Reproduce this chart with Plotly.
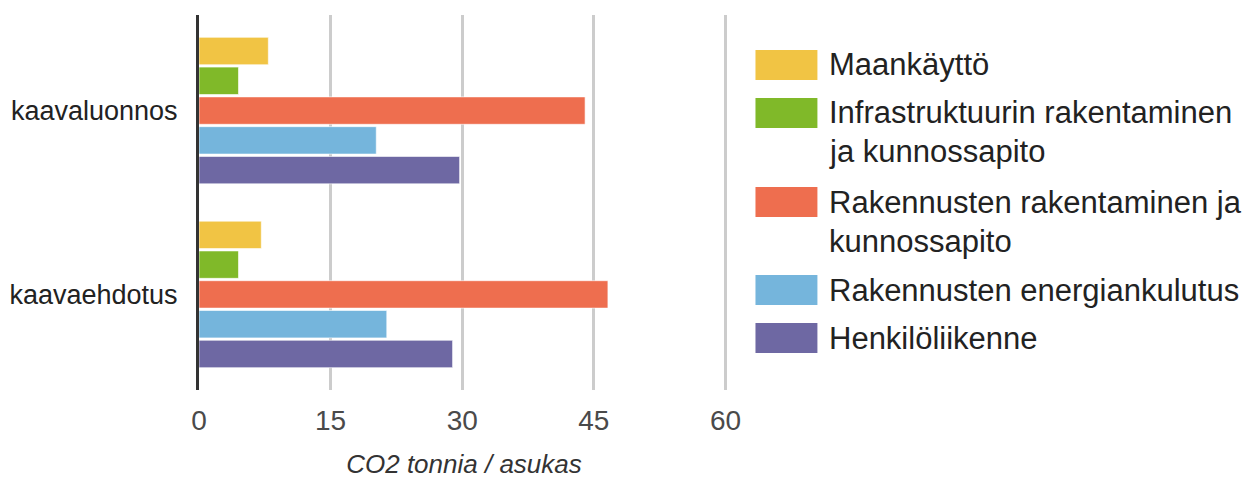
import plotly.graph_objects as go

categories = ["kaavaluonnos", "kaavaehdotus"]
series_names = [
    "Maankäyttö",
    "Infrastruktuurin rakentaminen<br>ja kunnossapito",
    "Rakennusten rakentaminen ja<br>kunnossapito",
    "Rakennusten energiankulutus",
    "Henkilöliikenne",
]
maankaytto = [7.9, 7.1]
infra = [4.5, 4.5]
rak_rakentaminen = [44.0, 46.6]
energia = [20.2, 21.4]
henkiloliikenne = [29.7, 28.9]
series_values = [maankaytto, infra, rak_rakentaminen, energia, henkiloliikenne]
colors = ["#F1C444", "#80B929", "#EE6E4F", "#75B5DC", "#6E68A3"]
x_ticks = [0, 15, 30, 45, 60]

FONT = "Arial"
O = 8  # page body margin offset
W, H = 1260 - O, 479 - O
L, R, T, B = 199 - O, 729.5 - O, 15 - O, 390 - O

fig = go.Figure()
for name, vals, col in zip(series_names, series_values, colors):
    fig.add_trace(go.Bar(
        y=categories, x=vals, name=name.replace("<br>", " "), orientation="h",
        marker=dict(color=col, line=dict(color="rgba(255,255,255,0.6)", width=1)),
        showlegend=False, hoverinfo="x+name",
    ))

# manual legend (wide swatches), positions in reference pixels
sw_top = [50, 98, 187, 275, 323]
line_h = 39
shapes = []
annotations = []
def px(xp):
    return (xp - O - L) / (R - L)
def py(yp):
    return (B - (yp - O)) / (B - T)
for i, (name, col) in enumerate(zip(series_names, colors)):
    top = sw_top[i]
    shapes.append(dict(type="rect", xref="paper", yref="paper",
                       x0=px(756), x1=px(818), y0=py(top + 30), y1=py(top),
                       fillcolor=col, line=dict(width=0)))
    for j, line in enumerate(name.split("<br>")):
        annotations.append(dict(xref="paper", yref="paper", x=px(828),
                                y=py(top + 15 + j * line_h), xanchor="left", yanchor="middle",
                                text=line, showarrow=False,
                                font=dict(family=FONT, size=31, color="#222222")))

fig.update_layout(
    width=W, height=H,
    margin=dict(l=L, r=W - R, t=T, b=H - B, pad=0, autoexpand=False),
    plot_bgcolor="white", paper_bgcolor="white",
    barmode="group", bargap=0.19, bargroupgap=0.08,
    shapes=shapes, annotations=annotations,
    font=dict(family=FONT),
    xaxis=dict(
        range=[0, 60.4], tickvals=x_ticks, ticktext=[str(v) for v in x_ticks],
        showgrid=True, gridcolor="#CCCCCC", gridwidth=3, zeroline=False,
        showline=False, automargin=False,
        tickfont=dict(family=FONT, size=28, color="#4A4A4A"),
        ticks="outside", ticklen=5, tickcolor="white",
        title=dict(text="<i>CO2 tonnia / asukas</i>", standoff=24,
                   font=dict(family=FONT, size=26, color="#333333")),
    ),
    yaxis=dict(
        categoryorder="array", categoryarray=categories,
        autorange=False, range=[1.52, -0.52],
        showline=True, linecolor="#333333", linewidth=3,
        showgrid=False, zeroline=False, automargin=False,
        tickfont=dict(family=FONT, size=27, color="#222222"),
        ticks="outside", ticklen=13, tickcolor="white",
    ),
)

fig.write_html("out.html")
